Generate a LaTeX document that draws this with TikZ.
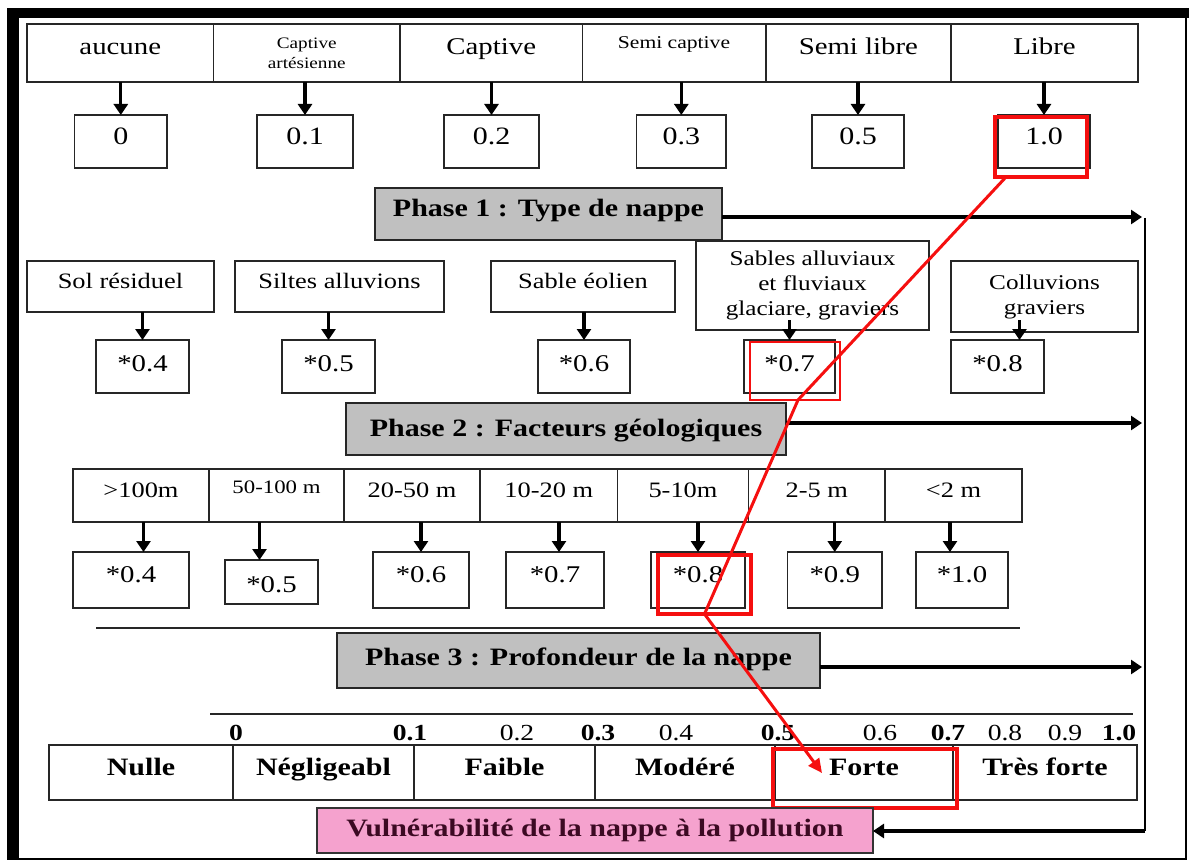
\documentclass[tikz,border=0pt]{standalone}
\usepackage{fontspec}
\setmainfont{Liberation Serif}[FakeStretch=1.2]
\usetikzlibrary{arrows.meta}
\definecolor{phasegray}{RGB}{192,192,192}
\definecolor{pinkbox}{RGB}{245,162,206}
\definecolor{maroontxt}{RGB}{60,10,35}
\definecolor{redmark}{RGB}{245,15,15}
\newcommand\fsz[2]{\fontsize{#1pt}{#2pt}\selectfont}
\tikzset{
  cellbase/.style={draw=black!85, line width=1.6pt, inner sep=0pt, outer sep=0pt, anchor=north west},
  toplab/.style={cellbase, text height=31pt, text depth=27pt, font=\fsz{24}{28}},
  topsmall/.style={cellbase, minimum height=58pt, align=center, font=\fsz{16}{20}},
  valone/.style={cellbase, text height=30pt, text depth=23pt, font=\fsz{25}{29}},
  geolab/.style={cellbase, text height=27pt, text depth=24pt, font=\fsz{22}{26}},
  geomulti/.style={cellbase, align=center, font=\fsz{21}{25}},
  valtwo/.style={cellbase, text height=31pt, text depth=22pt, font=\fsz{24}{28}},
  depthlab/.style={cellbase, text height=28pt, text depth=25pt, font=\fsz{22}{26}},
  valthree/.style={cellbase, text height=30pt, text depth=26pt, font=\fsz{24}{28}},
  phasebox/.style={cellbase, fill=phasegray, font=\bfseries\fsz{25}{29}},
  classlab/.style={cellbase, text height=30pt, text depth=25pt, font=\bfseries\fsz{25}{29}},
  scalenum/.style={anchor=base, inner sep=0pt, font=\fsz{23}{27}},
  redbox/.style={draw=redmark, inner sep=0pt, outer sep=0pt, anchor=north west},
  arr/.style={line width=3.2pt, -{Triangle[width=14pt,length=11pt]}},
  redarr/.style={draw=redmark, line width=3pt, line join=round, -{Triangle[width=13pt,length=14pt]}},
}
\begin{document}
\begin{tikzpicture}[x=1pt,y=-1pt]
\useasboundingbox (0,0) rectangle (1189,861);
% frame
\fill[black] (7,8) rectangle (1189,18);
\fill[black] (7,8) rectangle (19,860);
\draw[line width=2.5pt] (1186,8) -- (1186,859) -- (7,859);

% ---- top row: type de nappe
\node[toplab, minimum width=186.5pt] (t1) at (27,24) {aucune};
\node[topsmall, minimum width=186.5pt] (t2) at (213.5,24) {Captive\\artésienne};
\node[toplab, minimum width=182.5pt] (t3) at (400,24) {Captive};
\node[cellbase, minimum width=183pt, text height=25pt, text depth=33pt, font=\fsz{18}{22}] (t4) at (582.5,24) {Semi captive};
\node[toplab, minimum width=185.3pt] (t5) at (765.7,24) {Semi libre};
\node[toplab, minimum width=187pt] (t6) at (951,24) {Libre};

\node[valone, minimum width=92.4pt] (v1) at (74.6,115) {0};
\node[valone, minimum width=96pt] (v2) at (257,115) {0.1};
\node[valone, minimum width=95pt] (v3) at (444,115) {0.2};
\node[valone, minimum width=89.4pt] (v4) at (636.6,115) {0.3};
\node[valone, minimum width=92pt] (v5) at (812,115) {0.5};
\node[valone, minimum width=92pt] (v6) at (998,115) {1.0};

\foreach \i in {1,...,6}{\draw[arr] (v\i.north |- t\i.south) -- (v\i.north);}

\node[redbox, line width=4pt, minimum width=92pt, minimum height=60pt] (r1) at (995,117) {};

% ---- phase 1
\node[phasebox, minimum width=347pt, text height=29pt, text depth=23pt] (P1) at (375,188) {Phase 1 : Type de nappe};

% ---- geology row
\node[geolab, minimum width=187pt] (s1) at (27,261) {Sol résiduel};
\node[geolab, minimum width=209pt] (s2) at (235,261) {Siltes alluvions};
\node[geolab, minimum width=184pt] (s3) at (491,261) {Sable éolien};
\node[geomulti, minimum width=233pt, minimum height=89pt] (s4) at (696,241) {Sables alluviaux\\et fluviaux\\glaciare, graviers};
\node[geomulti, minimum width=187pt, minimum height=71pt] (s5) at (951,261) {Colluvions\\graviers};

\node[valtwo, minimum width=93pt] (w1) at (96,340) {*0.4};
\node[valtwo, minimum width=93pt] (w2) at (282,340) {*0.5};
\node[valtwo, minimum width=92pt] (w3) at (538,340) {*0.6};
\node[valtwo, minimum width=91pt] (w4) at (744,340) {*0.7};
\node[valtwo, minimum width=93pt] (w5) at (951,340) {*0.8};

\foreach \i in {1,2,3}{\draw[arr] (w\i.north |- s\i.south) -- (w\i.north);}
\coordinate (b4) at ([yshift=10pt]s4.south);
\draw[arr] (w4.north |- b4) -- (w4.north);
\coordinate (b5) at ([yshift=12pt]s5.south);
\coordinate (a5) at ([xshift=22pt]w5.north);
\draw[arr] (a5 |- b5) -- (a5);

\node[redbox, line width=2pt, minimum width=90pt, minimum height=58pt] (r2) at (750,342) {};

% ---- phase 2
\node[phasebox, minimum width=440pt, text height=33pt, text depth=19pt] (P2) at (346,403) {Phase 2 : Facteurs géologiques};

% ---- depth row
\node[depthlab, minimum width=136pt] (d1) at (73,469) {>100m};
\node[cellbase, minimum width=135pt, text height=24pt, text depth=29pt, font=\fsz{19}{23}] (d2) at (209,469) {50-100 m};
\node[depthlab, minimum width=136pt] (d3) at (344,469) {20-50 m};
\node[depthlab, minimum width=137.5pt] (d4) at (480,469) {10-20 m};
\node[depthlab, minimum width=131pt] (d5) at (617.5,469) {5-10m};
\node[depthlab, minimum width=136.5pt] (d6) at (748.5,469) {2-5 m};
\node[depthlab, minimum width=137pt] (d7) at (885,469) {<2 m};

\node[valthree, minimum width=116pt] (x1) at (73,552) {*0.4};
\node[cellbase, minimum width=93pt, text height=32pt, text depth=12pt, font=\fsz{24}{28}] (x2) at (225,560) {*0.5};
\node[valthree, minimum width=96pt] (x3) at (373,552) {*0.6};
\node[valthree, minimum width=98pt] (x4) at (506,552) {*0.7};
\node[valthree, minimum width=94pt] (x5) at (651,552) {*0.8};
\node[valthree, minimum width=94.5pt] (x6) at (787.5,552) {*0.9};
\node[valthree, minimum width=92pt] (x7) at (916,552) {*1.0};

\coordinate (e1) at ([xshift=12.5pt]x1.north);
\coordinate (e2) at ([xshift=-12pt]x2.north);
\coordinate (e3) at (x3.north);
\coordinate (e4) at ([xshift=4pt]x4.north);
\coordinate (e5) at (x5.north);
\coordinate (e6) at (x6.north);
\coordinate (e7) at ([xshift=-12pt]x7.north);
\foreach \i in {1,...,7}{\draw[arr] (e\i |- d\i.south) -- (e\i);}

\node[redbox, line width=4pt, minimum width=93pt, minimum height=59pt] (r3) at (658,555) {};

\coordinate (sepL) at (96,628);
\coordinate (sepR) at (1020,628);
\draw[line width=1.6pt, draw=black!85] (sepL) -- (sepR);

% ---- phase 3
\node[phasebox, minimum width=483pt, text height=32pt, text depth=23pt] (P3) at (337,633) {Phase 3 : Profondeur de la nappe};

% ---- scale
\coordinate (scL) at (210,714);
\coordinate (scR) at (1133,714);
\draw[line width=1.6pt, draw=black!85] (scL) -- (scR);
\node[scalenum, font=\bfseries\fsz{23}{27}] (n0) at (236,740) {0};
\node[scalenum, font=\bfseries\fsz{23}{27}] (n1) at (410,740) {0.1};
\node[scalenum] (n2) at (517,740) {0.2};
\node[scalenum, font=\bfseries\fsz{23}{27}] (n3) at (598,740) {0.3};
\node[scalenum] (n4) at (676,740) {0.4};
\node[scalenum, font=\bfseries\fsz{23}{27}] (n5) at (778,740) {0.5};
\node[scalenum] (n6) at (880,740) {0.6};
\node[scalenum, font=\bfseries\fsz{23}{27}] (n7) at (948,740) {0.7};
\node[scalenum] (n8) at (1005,740) {0.8};
\node[scalenum] (n9) at (1065,740) {0.9};
\node[scalenum, font=\bfseries\fsz{23}{27}] (n10) at (1119,740) {1.0};

% ---- classes
\node[classlab, minimum width=184pt] (k1) at (49,745) {Nulle};
\node[classlab, minimum width=181pt] (k2) at (233,745) {Négligeabl};
\node[classlab, minimum width=181pt] (k3) at (414,745) {Faible};
\node[classlab, minimum width=180pt] (k4) at (595,745) {Modéré};
\node[classlab, minimum width=178pt] (k5) at (775,745) {Forte};
\node[classlab, minimum width=184pt] (k6) at (953,745) {Très forte};

\node[redbox, line width=4pt, minimum width=184pt, minimum height=59pt] (r4) at (772.6,749) {};

% ---- result
\node[cellbase, fill=pinkbox, draw=black!80, text=maroontxt, minimum width=556pt, text height=28pt, text depth=17pt, font=\bfseries\fsz{25}{29}] (V) at (317,808) {Vulnérabilité de la nappe à la pollution};

% ---- phase arrows to collector line
\coordinate (c1) at (1142,217);
\coordinate (c2) at (1142,423);
\coordinate (c3) at (1142,667);
\coordinate (vtop) at (1145,218);
\coordinate (vbot) at (1145,831);
\draw[arr] (P1.east |- c1) -- (c1);
\draw[arr] (P2.east |- c2) -- (c2);
\draw[arr] (P3.east |- c3) -- (c3);
\draw[line width=2pt] (vtop) -- (vbot);
\draw[arr] (vbot) -- (V.east |- vbot);

% ---- red path
\coordinate (p0) at ([xshift=-35pt]r1.south);
\coordinate (p1) at ([xshift=3pt]r2.south);
\coordinate (p2) at (r3.south);
\coordinate (p3) at (822,773);
\draw[redarr] (p0) -- (p1) -- (p2) -- (p3);
\end{tikzpicture}
\end{document}
